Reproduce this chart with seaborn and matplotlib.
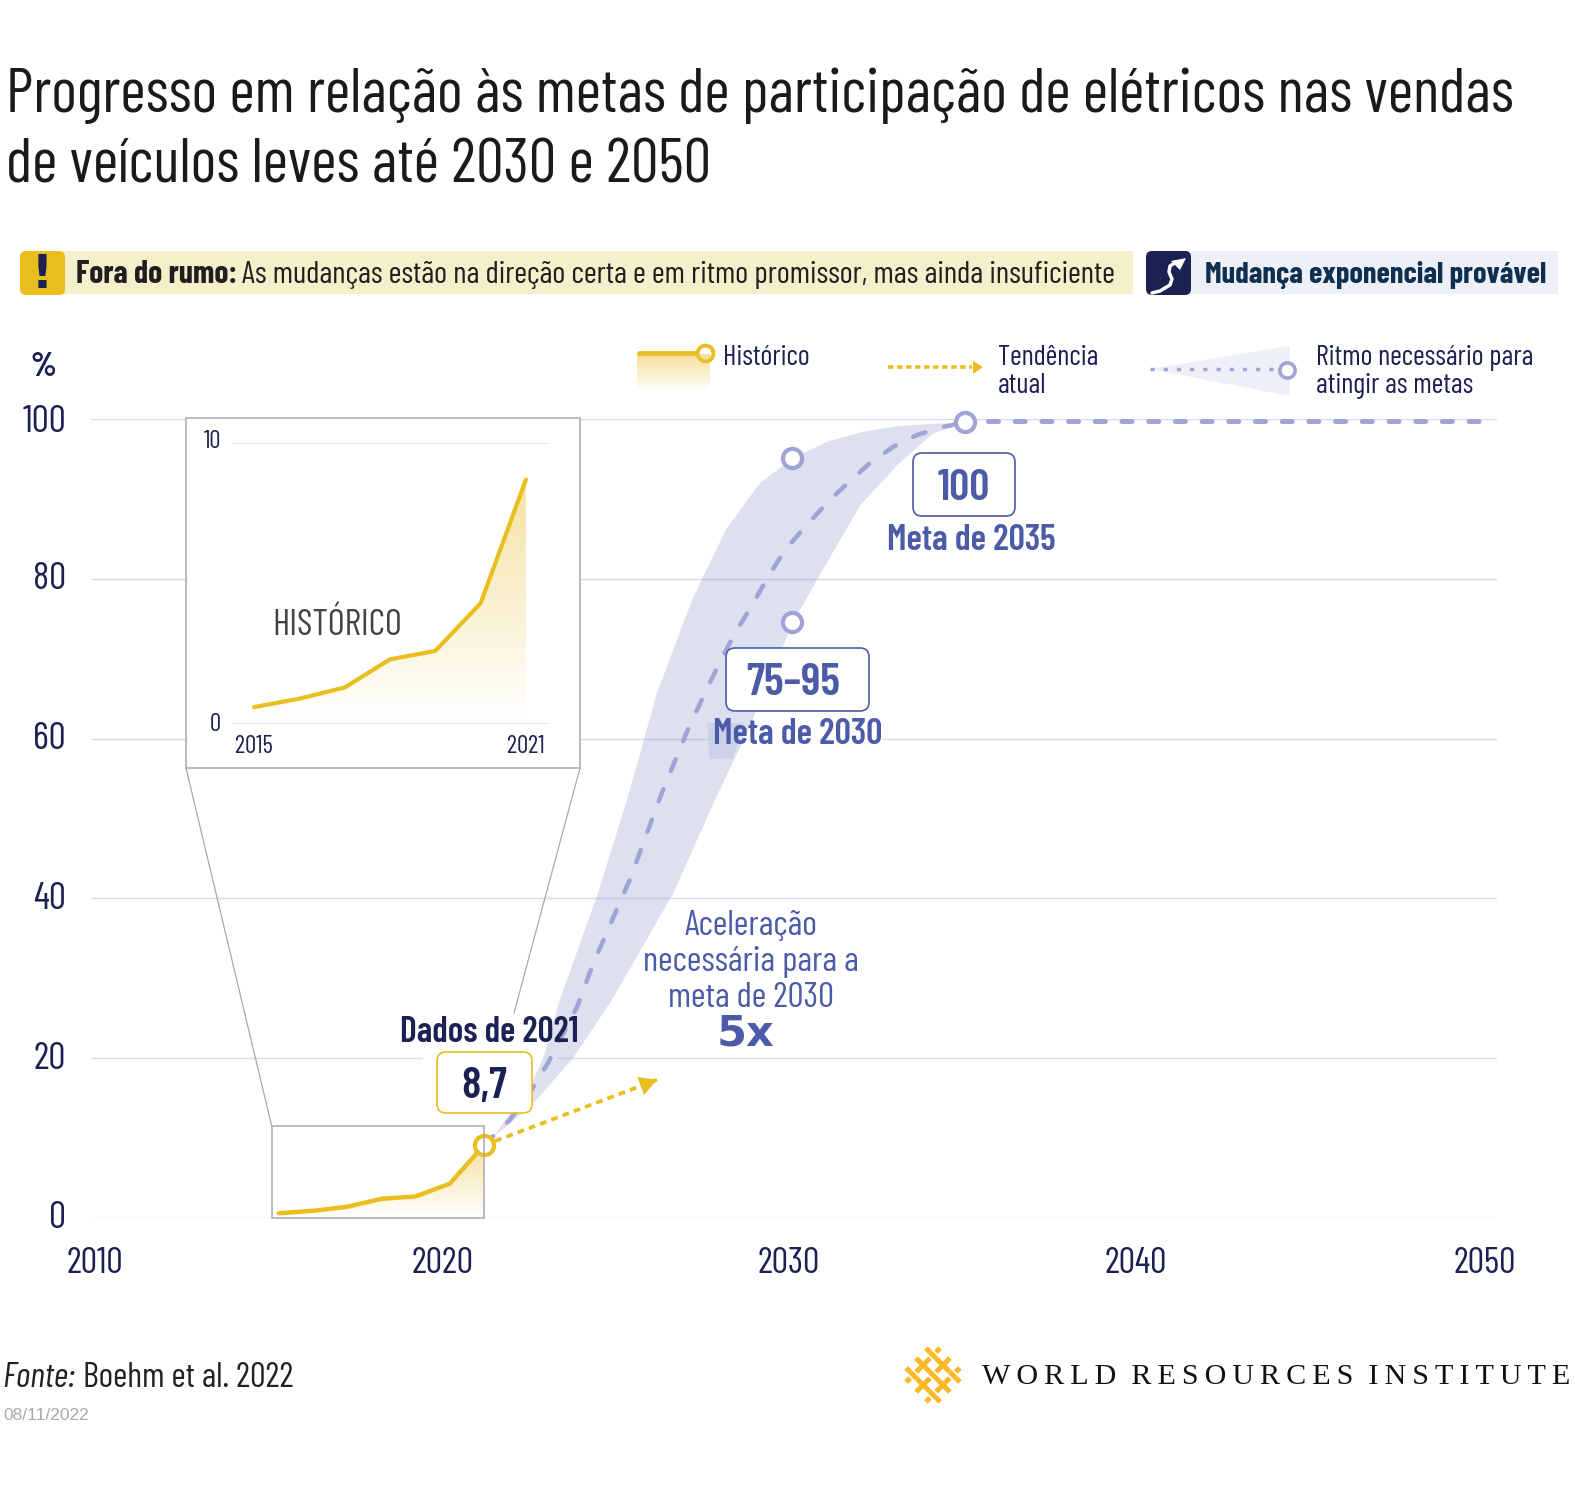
import math
import numpy as np
import matplotlib
matplotlib.use("Agg")
import matplotlib.pyplot as plt
import seaborn as sns
from matplotlib.patches import Rectangle, FancyBboxPatch, Polygon
from matplotlib.transforms import ScaledTranslation

# ---------- data ----------
hist_years = [2015, 2016, 2017, 2018, 2019, 2020, 2021]
hist_main = [0.6, 0.9, 1.4, 2.4, 2.7, 4.3, 9.1]
hist_inset = [0.6, 0.9, 1.3, 2.3, 2.6, 4.3, 8.7]
trend_years = [2021, 2026.06]
trend_values = [9.1, 17.3]
upper_years = [2021, 2021.26, 2022.40, 2022.73, 2023.22, 2024.33, 2025.18, 2026.06, 2027.08, 2028.08,
               2029.07, 2030.04, 2031.06, 2032.08, 2033.08, 2034.13, 2035.06]
upper_values = [9.1, 10.1, 16.9, 20.0, 27.3, 40.6, 52.3, 65.7, 77.3, 86.2, 92.0, 95.1, 97.2, 98.4, 99.1, 99.4, 99.5]
lower_years = [2021, 2021.26, 2022.35, 2023.60, 2024.74, 2026.53, 2027.75, 2028.69, 2030.04, 2030.77,
               2032.0, 2033.08, 2034.13, 2035.06]
lower_values = [9.1, 10.1, 13.9, 20.0, 27.3, 40.6, 52.3, 60.7, 74.6, 80.1, 89.2, 94.2, 98.2, 99.6]
path_years = [2021, 2021.76, 2022.43, 2022.87, 2023.72, 2024.19, 2025.27, 2026.20, 2026.96, 2027.46, 2027.90,
              2028.34, 2028.84, 2029.30, 2029.80, 2030.39, 2031.03, 2031.64, 2032.29, 2032.96, 2033.66, 2034.42, 2035.06]
path_values = [9.1, 12.3, 16.3, 19.4, 26.4, 31.8, 42.4, 53.2, 61.1, 65.7, 69.6, 73.2, 76.7, 80.2, 83.6, 86.5,
               89.5, 92.0, 94.5, 96.5, 98.0, 99.0, 99.6]
after_years = [2035.75, 2050.2]
after_values = [99.7, 99.7]
target_years = [2030, 2030, 2035.06]
target_values = [95.1, 74.6, 99.6]
x_ticks = [2010, 2020, 2030, 2040, 2050]
y_ticks = [0, 20, 40, 60, 80, 100]

TITLE_1 = "Progresso em relação às metas de participação de elétricos nas vendas"
TITLE_2 = "de veículos leves até 2030 e 2050"
NAVY = "#1B2152"
YEL = "#E9BE1E"
LILAC = "#A0A3D6"
BLUE = "#4C5BA8"
GRID = "#D9DAEC"
W, H = 1575, 1500

sns.set_theme(style="white")
plt.rcParams["font.family"] = ["Barlow Condensed", "Liberation Sans", "DejaVu Sans"]
fig = plt.figure(figsize=(W / 100, H / 100), dpi=100, facecolor="white")


def axpos(x0, x1, ytop, ybot):
    return [x0 / W, (H - ybot) / H, (x1 - x0) / W, (ybot - ytop) / H]


def gradient(ax, xs, ys, bottom, top, amax=0.5):
    rgba = np.zeros((256, 1, 4))
    rgba[..., :3] = matplotlib.colors.to_rgb("#EBC443")
    rgba[..., 3] = np.linspace(amax, 0, 256)[:, None]
    im = ax.imshow(rgba, extent=(min(xs), max(xs), bottom, top), aspect="auto", origin="upper", zorder=1.5,
                   interpolation="bilinear")
    poly = Polygon(list(zip(list(xs) + [max(xs), min(xs)], list(ys) + [bottom, bottom])), transform=ax.transData,
                   fc="none", ec="none")
    ax.add_patch(poly)
    im.set_clip_path(poly)


def px_shift(label, dx, dy):
    label.set_transform(label.get_transform() + ScaledTranslation(dx / 100, -dy / 100, fig.dpi_scale_trans))


# ---------- main axes ----------
ax = fig.add_axes(axpos(91, 1497, 419, 1218))
ax.set_zorder(1)
ax.patch.set_alpha(0)
ax.set_axisbelow(True)
ax.yaxis.grid(True, color=GRID, lw=1.0)
ax.xaxis.grid(False)
for s in ax.spines.values():
    s.set_visible(False)

# gaps in the gridlines behind the labels
ax.add_patch(Rectangle((2019.22, 19), 3.92, 2, fc="white", ec="none", zorder=1))
ax.add_patch(Rectangle((2027.7, 59), 4.95, 2, fc="white", ec="none", zorder=1))

ax.fill(upper_years + lower_years[::-1], upper_values + lower_values[::-1], color="#95A3D0", alpha=0.33, lw=0, zorder=2)
gradient(ax, hist_years, hist_main, 0, 9.1)
sns.lineplot(x=path_years, y=path_values, ax=ax, color=LILAC, lw=3.2, estimator=None, sort=False, zorder=3,
             linestyle=(0, (2.9, 4.4)), dash_capstyle="round")
sns.lineplot(x=after_years, y=after_values, ax=ax, color=LILAC, lw=3.6, estimator=None, sort=False, zorder=3,
             linestyle=(0, (2.0, 3.34)), dash_capstyle="round", clip_on=False)
sns.lineplot(x=hist_years, y=hist_main, ax=ax, color=YEL, lw=3.2, estimator=None, sort=False, zorder=4,
             solid_capstyle="round", clip_on=False)
sns.lineplot(x=trend_years, y=trend_values, ax=ax, color=YEL, lw=2.7, estimator=None, sort=False, zorder=4,
             linestyle=(0, (1.8, 1.4)))
ax.annotate("", xy=(trend_years[1], trend_values[1]),
            xytext=(trend_years[1] - 0.5, trend_values[1] - 0.81),
            arrowprops=dict(arrowstyle="-|>,head_length=0.7,head_width=0.38", color=YEL, lw=0, shrinkA=0, shrinkB=0,
                            mutation_scale=18), zorder=5)
sns.scatterplot(x=target_years, y=target_values, ax=ax, s=190, color="white", edgecolor=LILAC, linewidth=3.0,
                zorder=6, clip_on=False)
sns.scatterplot(x=[hist_years[-1]], y=[hist_main[-1]], ax=ax, s=190, color="white", edgecolor=YEL, linewidth=3.0,
                zorder=7, clip_on=False)

ax.set_xlim(2009.51, 2050.62)
ax.set_ylim(0, 100)
ax.set_xlabel("")
ax.set_ylabel("")
ax.set_xticks(x_ticks)
ax.set_yticks(y_ticks)
ax.set_xticklabels([str(v) for v in x_ticks])
ax.set_yticklabels([str(v) for v in y_ticks])
ax.tick_params(axis="x", length=0, pad=21, labelsize=26.4, labelcolor=NAVY)
ax.tick_params(axis="y", length=0, pad=18, labelsize=27.5, labelcolor=NAVY)
for lab, dx in zip(ax.get_xticklabels(), [-13, -7, -3, 2, 9]):
    px_shift(lab, dx, 0)
for lab, dy in zip(ax.get_yticklabels(), [-4, -3, -3, -3, -3, -1]):
    px_shift(lab, 0, dy)

# ---------- overlay in pixel coordinates ----------
ov = fig.add_axes([0, 0, 1, 1])
ov.set_zorder(2)
ov.patch.set_alpha(0)
ov.set_xlim(0, W)
ov.set_ylim(H, 0)
ov.axis("off")


def t(x, y, s, size, color=NAVY, ha="left", va="center", weight="normal", style="normal", family=None, z=10):
    kw = dict(family=family) if family else {}
    return ov.text(x, y, s, fontsize=size, color=color, ha=ha, va=va, weight=weight, style=style, zorder=z, **kw)


def rbox(x0, y0, x1, y1, fc, ec="none", r=8, lw=1.2, z=6):
    ov.add_patch(FancyBboxPatch((x0 + r, y0 + r), x1 - x0 - 2 * r, y1 - y0 - 2 * r,
                                boxstyle=f"round,pad={r},rounding_size={r}", fc=fc, ec=ec, lw=lw, zorder=z))


# title
t(6, 112.5, TITLE_1, 44.4, color="#1a1a1a", va="baseline")
t(6, 182.5, TITLE_2, 44.4, color="#1a1a1a", va="baseline")

# status banners
ov.add_patch(Rectangle((24, 251), 1109, 43, fc="#F5EFCB", ec="none", zorder=1))
rbox(20, 251, 65, 295, YEL, r=6, z=2)
t(42.5, 276, "!", 33, color=NAVY, ha="center", weight="bold", family="DejaVu Sans")
t(76, 283, "Fora do rumo:", 22.8, color="#1f1f1f", weight="bold", va="baseline")
t(242, 283, "As mudanças estão na direção certa e em ritmo promissor, mas ainda insuficiente", 22.5, color="#1f1f1f", va="baseline")
ov.add_patch(Rectangle((1150, 251), 408, 43, fc="#EEF0F8", ec="none", zorder=1))
rbox(1146, 251, 1191, 295, NAVY, r=6, z=2)
ov.plot([1152, 1160, 1170, 1172, 1169, 1170, 1176], [293, 291, 285, 279, 272, 266, 262], color="white", lw=2.5, zorder=3,
        solid_capstyle="round")
ov.add_patch(Polygon([(1186, 258), (1171, 261), (1180, 270)], fc="white", ec="none", zorder=3))
t(1205, 283, "Mudança exponencial provável", 21.9, color="#0F2F50", weight="bold", va="baseline")

# legend and unit
t(43, 367, "%", 24, weight="bold", ha="center")
gradient_ax = fig.add_axes(axpos(637, 710, 354, 391))
gradient_ax.axis("off")
gradient_ax.set_zorder(2)
gradient_ax.imshow(np.dstack([np.full((64, 1), c) for c in matplotlib.colors.to_rgb("#EBC443")]
                             + [np.linspace(0.55, 0, 64)[:, None]]), aspect="auto", interpolation="bilinear")
ov.plot([639, 700], [353, 353], color=YEL, lw=3.4, zorder=5, solid_capstyle="round")
ov.scatter([705], [353], s=130, facecolor="white", edgecolor=YEL, linewidth=2.8, zorder=6)
t(723, 365, "Histórico", 20.5, va="baseline")
ov.plot([888, 972], [367, 367], color=YEL, lw=2.6, linestyle=(0, (1.5, 1.0)), zorder=5)
ov.add_patch(Polygon([(973, 361), (983, 367), (973, 374)], fc=YEL, ec="none", zorder=5))
t(998, 365, "Tendência", 20.5, va="baseline")
t(998, 393, "atual", 20.5, va="baseline")
ov.add_patch(Polygon([(1150, 369), (1290, 346), (1290, 396)], fc="#EEF0F8", ec="none", zorder=4))
ov.plot([1150, 1278], [369, 369], color=LILAC, lw=2.5, linestyle=(0, (1.2, 2.6)), zorder=5)
ov.scatter([1287], [370], s=120, facecolor="white", edgecolor=LILAC, linewidth=2.6, zorder=6)
t(1316, 365, "Ritmo necessário para", 20.5, va="baseline")
t(1316, 393, "atingir as metas", 20.5, va="baseline")

# zoom frame and inset box
ZOOM = "#A8A8A8"
ov.add_patch(Rectangle((271.7, 1126), 212.3, 92, fc="none", ec=ZOOM, lw=1.1, zorder=3))
ov.plot([186, 271.7], [768, 1126], color=ZOOM, lw=0.9, zorder=3)
ov.plot([580, 514], [768, 1013], color=ZOOM, lw=0.9, zorder=3)
ov.add_patch(Rectangle((186, 418), 394, 350, fc="white", ec=ZOOM, lw=1.1, zorder=4))

# callouts
rbox(437, 1052, 532, 1113, "white", ec=YEL, r=9, z=8)
t(484, 1086, "8,7", 32, ha="center", weight="semibold")
t(489, 1032, "Dados de 2021", 25.6, ha="center", weight="semibold")
rbox(913, 453, 1015, 516, "white", ec=BLUE, r=9, z=8)
t(964, 489, "100", 32, color=BLUE, ha="center", weight="semibold")
t(971, 541, "Meta de 2035", 26, color=BLUE, ha="center", weight="semibold")
ov.add_patch(Polygon([(707, 723), (743, 723), (733, 758), (710, 759)], fc="#CDD1EA", ec="none", zorder=3))
rbox(726, 648, 869, 711, "white", ec=BLUE, r=9, z=8)
t(793, 683, "75–95", 33, color=BLUE, ha="center", weight="semibold")
t(798, 735, "Meta de 2030", 26, color=BLUE, ha="center", weight="semibold")
t(751, 926, "Aceleração", 25.6, color=BLUE, ha="center")
t(751, 962, "necessária para a", 25.6, color=BLUE, ha="center")
t(751, 998, "meta de 2030", 25.6, color=BLUE, ha="center")
t(746, 1034, "5x", 31, color=BLUE, ha="center", weight="bold", family="DejaVu Sans")

# footer
t(2, 1387, "Fonte:", 25.5, style="italic", color="#222222", va="baseline")
t(83, 1387, "Boehm et al. 2022", 25, color="#222222", va="baseline")
t(3, 1415, "08/11/2022", 12.5, color="#AAAAAA", family="Liberation Sans")

# WRI mark
cx, cy, gold = 933, 1375, "#FDB827"
q = math.sqrt(0.5)


def uv(u, v):
    return cx + (u + v) * q, cy + (v - u) * q


for v in (-14, 0, 14):
    a, b = uv(-24, v), uv(24, v)
    ov.plot([a[0], b[0]], [a[1], b[1]], color=gold, lw=3.6, zorder=5, solid_capstyle="butt")
    a, b = uv(v, -24), uv(v, 24)
    ov.plot([a[0], b[0]], [a[1], b[1]], color=gold, lw=3.6, zorder=5, solid_capstyle="butt")
for i, u in enumerate((-14, 0, 14)):
    for j, v in enumerate((-14, 0, 14)):
        if (i + j) % 2 == 0:
            a, b = uv(u, v - 4.5), uv(u, v + 4.5)
            ov.plot([a[0], b[0]], [a[1], b[1]], color="white", lw=6.2, zorder=6, solid_capstyle="butt")
            ov.plot([a[0], b[0]], [a[1], b[1]], color=gold, lw=3.6, zorder=7, solid_capstyle="butt")
wri = "\u2009".join("WORLD") + "  " + "\u2009".join("RESOURCES") + "  " + "\u2009".join("INSTITUTE")
t(982, 1377, wri, 21.7, color="#111111", family=["Liberation Serif", "DejaVu Serif"])

# ---------- inset axes ----------
ins = fig.add_axes(axpos(232, 549, 443, 724))
ins.set_zorder(4)
ins.patch.set_alpha(0)
ins.set_axisbelow(True)
ins.yaxis.grid(True, color="#DFE0EE", lw=1.2)
ins.xaxis.grid(False)
for s in ins.spines.values():
    s.set_visible(False)
gradient(ins, hist_years, hist_inset, 0, 8.7)
sns.lineplot(x=hist_years, y=hist_inset, ax=ins, color=YEL, lw=3.0, estimator=None, sort=False, zorder=3,
             solid_capstyle="round")
ins.set_xlim(2014.515, 2021.508)
ins.set_ylim(0, 10)
ins.set_xlabel("")
ins.set_ylabel("")
ins.set_xticks([2015, 2021])
ins.set_xticklabels(["2015", "2021"])
ins.set_yticks([0, 10])
ins.set_yticklabels(["0", "10"])
ins.tick_params(axis="x", length=0, pad=8, labelsize=18, labelcolor=NAVY)
ins.tick_params(axis="y", length=0, pad=8, labelsize=18, labelcolor=NAVY)
for lab, dy in zip(ins.get_yticklabels(), [-2, -4]):
    px_shift(lab, 0, dy)
ins.text(2016.83, 3.5, "HISTÓRICO", fontsize=26.4, color="#444444", ha="center", va="center")

fig.savefig("out.png", dpi=100, facecolor="white")
